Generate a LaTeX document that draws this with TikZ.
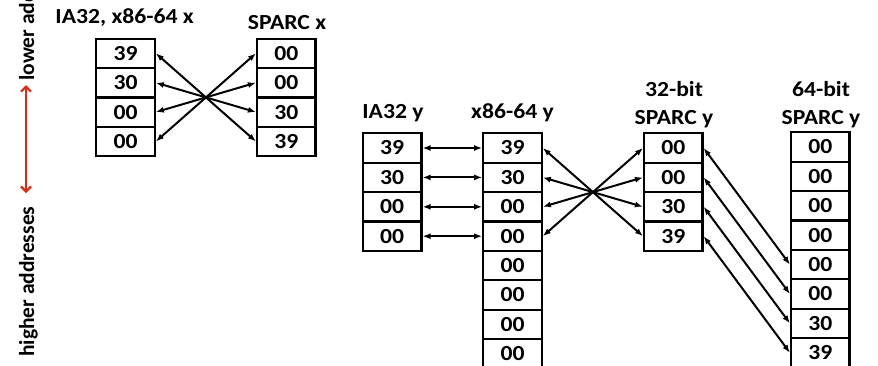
\documentclass[tikz,border=0pt]{standalone}
\usepackage{fontspec}
\usepackage{graphicx}
\setmainfont{Carlito}
\usetikzlibrary{arrows.meta}
\definecolor{addrred}{RGB}{222,40,18}
% glyphs are set slightly wide
\newcommand{\wide}[1]{\scalebox{1.1}[1]{#1}}

\begin{document}
\begin{tikzpicture}[x=1pt,y=-1pt,
  bold/.style={font=\fontsize{21.5}{24}\selectfont\bfseries},
  cell/.style={bold, draw, line width=2.2pt, minimum width=58.5pt,
    minimum height=29.4pt, inner sep=0pt},
  head/.style={bold, inner sep=0pt, anchor=base},
  side/.style={bold, inner sep=0pt, rotate=90, anchor=base west},
  link/.style={line width=2pt,
    {Latex[length=8pt,width=6pt]}-{Latex[length=8pt,width=6pt]}},
]
\path[use as bounding box, clip] (0,0) rectangle (878,365);

% address direction
\node[side] (lo) at (34,81) {lower addresses};
\node[side] (hi) at (34,357) {higher addresses};
\coordinate (up) at (26,85);
\coordinate (down) at (26,193);
\draw[addrred, line width=2.2pt,
  {Straight Barb[length=5pt,width=10pt]}-{Straight Barb[length=5pt,width=10pt]}]
  (up) -- (down);

% x: four bytes each
\node[head] (hax) at (124.6,23.5) {\wide{IA32, x86-64 x}};
\node[head] (hsx) at (287,29.5) {\wide{SPARC x}};
\foreach \v [count=\i] in {39,30,00,00}
  \node[cell] (a\i) at (125.5,{53.3+29.4*(\i-1)}) {\wide{\v}};
\foreach \v [count=\i] in {00,00,30,39}
  \node[cell] (b\i) at (286.3,{53.3+29.4*(\i-1)}) {\wide{\v}};
\foreach \i/\j in {1/4,2/3,3/2,4/1}
  \draw[link] (a\i.east) -- (b\j.west);

% y: four or eight bytes
\node[head] (hiy) at (393,118.3) {\wide{IA32 y}};
\node[head] (hxy) at (512.5,118.3) {\wide{x86-64 y}};
\node[head] (h32a) at (674,96) {\wide{32-bit}};
\node[head] (h32b) at (674,124.3) {\wide{SPARC y}};
\node[head] (h64a) at (821,96) {\wide{64-bit}};
\node[head] (h64b) at (821,124.3) {\wide{SPARC y}};

\foreach \v [count=\i] in {39,30,00,00}
  \node[cell] (c\i) at (392.2,{148.0+29.4*(\i-1)}) {\wide{\v}};
\foreach \v [count=\i] in {39,30,00,00,00,00,00,00}
  \node[cell] (d\i) at (512.5,{148.0+29.4*(\i-1)}) {\wide{\v}};
\foreach \v [count=\i] in {00,00,30,39}
  \node[cell] (e\i) at (673.3,{148.0+29.4*(\i-1)}) {\wide{\v}};
\foreach \v [count=\i] in {00,00,00,00,00,00,30,39}
  \node[cell] (f\i) at (820.3,{147.0+29.4*(\i-1)}) {\wide{\v}};

\foreach \i in {1,...,4}
  \draw[link] (c\i.east) -- (d\i.west);
\foreach \i/\j in {1/4,2/3,3/2,4/1}
  \draw[link] (d\i.east) -- (e\j.west);
\foreach \i/\j in {1/5,2/6,3/7,4/8}
  \draw[link] (e\i.east) -- (f\j.west);
\end{tikzpicture}
\end{document}
